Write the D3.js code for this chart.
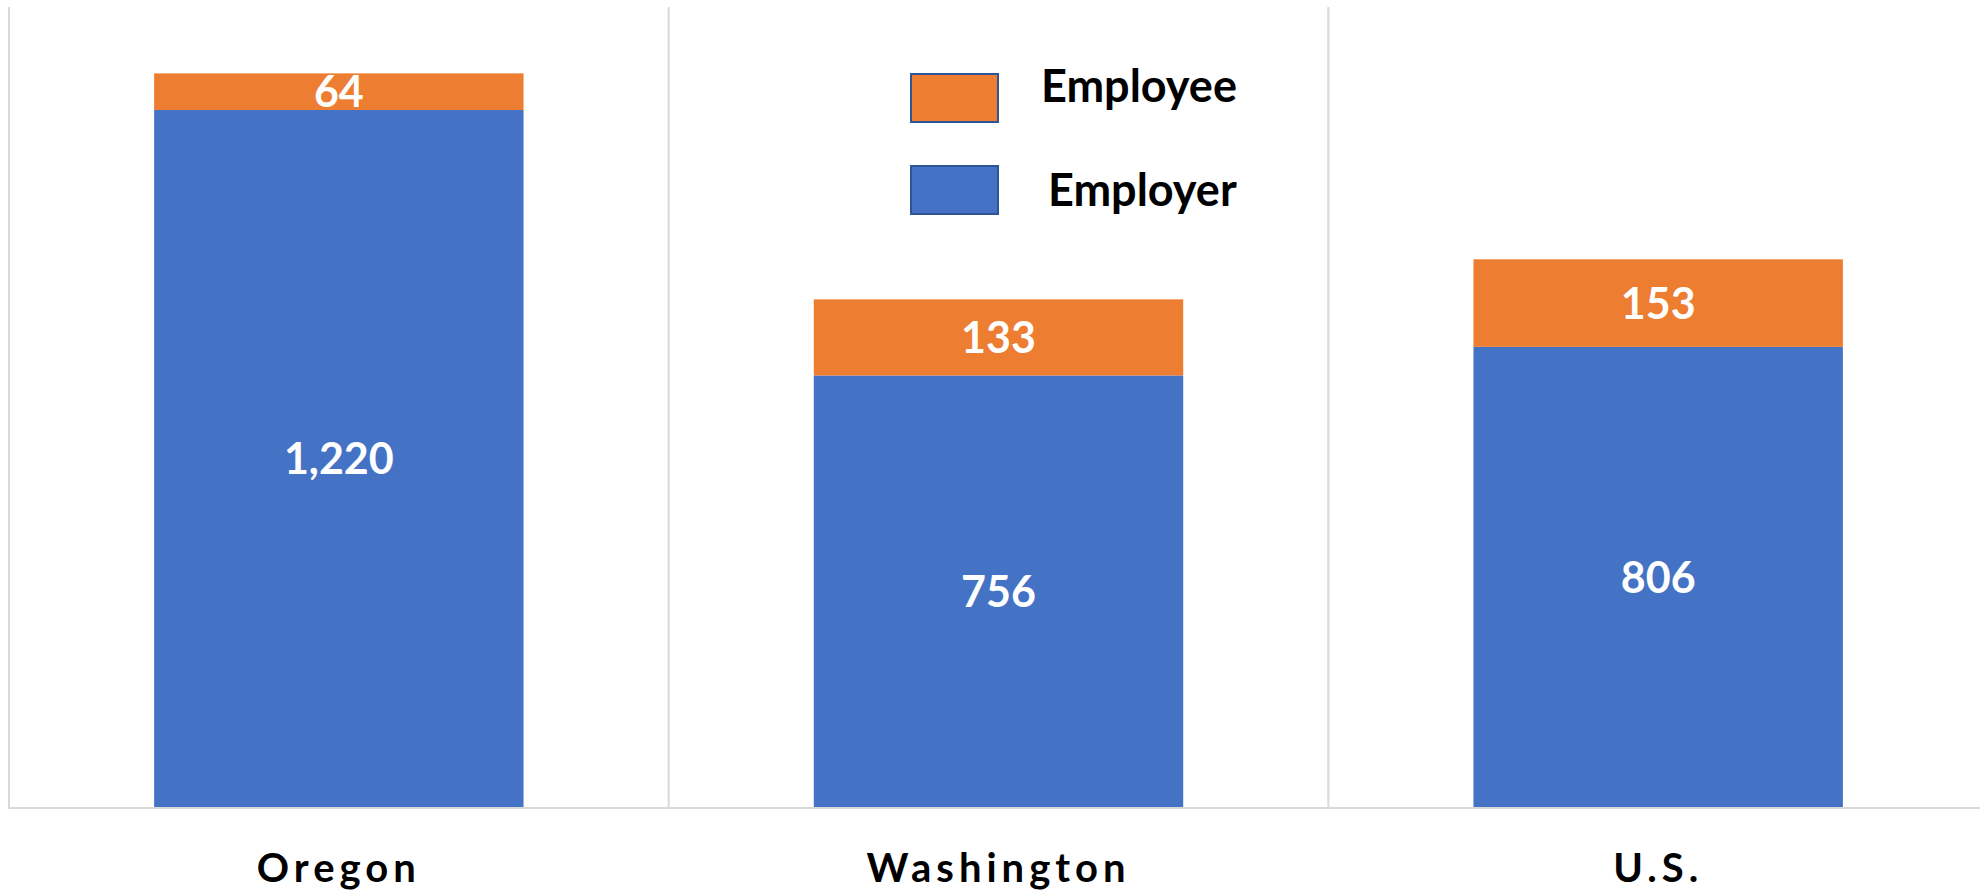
<!DOCTYPE html>
<html>
<head>
<meta charset="utf-8">
<script src="https://cdn.jsdelivr.net/npm/d3@7"></script>
<style>
  html, body { margin: 0; padding: 0; background: #fff; }
  svg { display: block; font-family: Lato, "Noto Sans", sans-serif; }
</style>
</head>
<body>
<svg width="1980" height="893"></svg>
<script>
// data
const categories = ['Oregon', 'Washington', 'U.S.'];
const employer = [1220, 756, 806];
const employee = [64, 133, 153];
const seriesKeys = ['Employer', 'Employee'];
const legendOrder = ['Employee', 'Employer'];

const svg = d3.select('svg');
const width = +svg.attr('width');
const height = +svg.attr('height');

const colors = { Employer: '#4472C4', Employee: '#ED7D31' };

// table for d3.stack
const rows = categories.map((c, i) => ({ cat: c, Employer: employer[i], Employee: employee[i] }));
const stacked = d3.stack().keys(seriesKeys)(rows);

// plot area runs a little past the right edge of the page
const plot = { left: 9, right: 1988, top: 7, bottom: 808 };

const x = d3.scaleBand()
  .domain(categories)
  .range([plot.left, plot.right])
  .paddingInner(0.44)
  .paddingOuter(0.22);

const y = d3.scaleLinear()
  .domain([0, 1400])
  .range([plot.bottom, plot.top]);

// vertical category gridlines (cell edges)
const edges = d3.range(categories.length).map(i => plot.left + i * x.step());
svg.append('g')
  .selectAll('line').data(edges)
  .join('line')
    .attr('x1', d => d).attr('x2', d => d)
    .attr('y1', plot.top).attr('y2', plot.bottom)
    .attr('stroke', '#d9d9d9').attr('stroke-width', 2);

// bars
const layers = svg.append('g')
  .selectAll('g').data(stacked)
  .join('g')
    .attr('fill', d => colors[d.key]);

layers.selectAll('rect')
  .data(d => d)
  .join('rect')
    .attr('x', d => x(d.data.cat))
    .attr('width', x.bandwidth())
    .attr('y', d => y(d[1]))
    .attr('height', d => y(d[0]) - y(d[1]));

// value labels, centred in each segment
const fmt = d3.format(',');
layers.selectAll('text')
  .data(d => d.map(v => ({ v, key: d.key })))
  .join('text')
    .attr('x', d => x(d.v.data.cat) + x.bandwidth() / 2)
    .attr('y', d => (y(d.v[0]) + y(d.v[1])) / 2)
    .attr('dy', '0.36em')
    .attr('text-anchor', 'middle')
    .attr('fill', '#fff')
    .attr('font-size', 43)
    .attr('font-weight', 700)
    .text(d => fmt(d.v[1] - d.v[0]));

// bottom axis line
svg.append('line')
  .attr('x1', plot.left - 1).attr('x2', width)
  .attr('y1', plot.bottom).attr('y2', plot.bottom)
  .attr('stroke', '#d9d9d9').attr('stroke-width', 2);

// category labels
const xAxis = svg.append('g')
  .attr('transform', `translate(0,${plot.bottom})`)
  .call(d3.axisBottom(x).tickSize(0).tickPadding(0));
xAxis.select('.domain').remove();
xAxis.selectAll('text')
  .attr('y', 74)
  .attr('dy', 0)
  .attr('fill', '#000')
  .attr('font-family', 'Lato, "Noto Sans", sans-serif')
  .attr('font-size', 40)
  .attr('font-weight', 700)
  .attr('letter-spacing', 5);

// legend
const legend = svg.append('g')
  .selectAll('g').data(legendOrder)
  .join('g')
    .attr('transform', (d, i) => `translate(911,${74 + i * 92})`);

legend.append('rect')
  .attr('width', 87).attr('height', 48)
  .attr('fill', d => colors[d])
  .attr('stroke', '#2F5597').attr('stroke-width', 2);

legend.append('text')
  .attr('x', (d, i) => i === 0 ? 130 : 137)
  .attr('y', (d, i) => i === 0 ? 28 : 40)
  .attr('font-size', 45)
  .attr('font-weight', 700)
  .attr('fill', '#000')
  .text(d => d);
</script>
</body>
</html>
